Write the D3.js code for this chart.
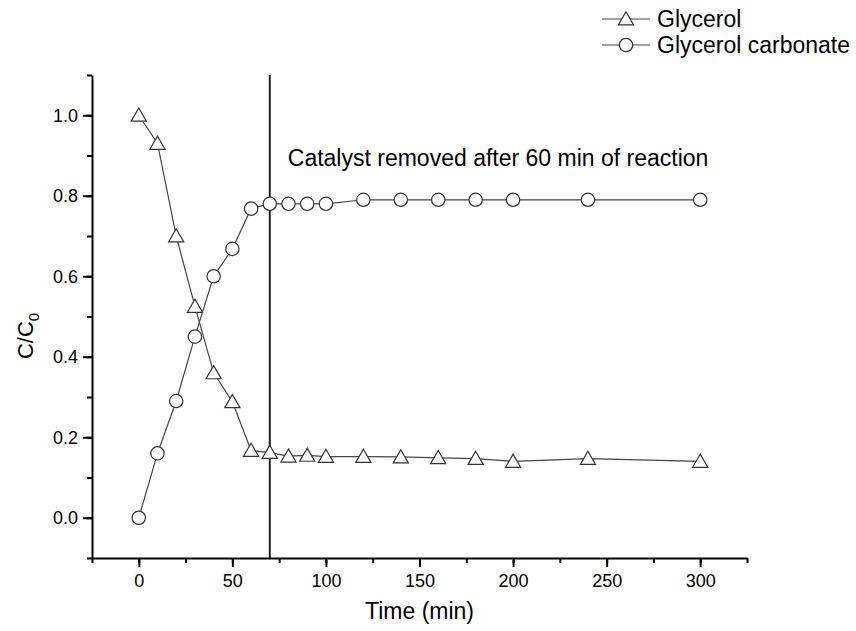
<!DOCTYPE html>
<html>
<head>
<meta charset="utf-8">
<script src="https://cdn.jsdelivr.net/npm/d3@7"></script>
<style>
  body { margin: 0; background: #fff; }
  svg { font-family: "Liberation Sans", Arial, sans-serif; }
</style>
</head>
<body>
<svg class="chart" width="856" height="631"></svg>
<script>
// data
var time = [0, 10, 20, 30, 40, 50, 60, 70, 80, 90, 100, 120, 140, 160, 180, 200, 240, 300];
var glycerol = [1.0, 0.93, 0.70, 0.525, 0.36, 0.288, 0.167, 0.162, 0.153, 0.155, 0.152, 0.152, 0.151, 0.149, 0.147, 0.140, 0.147, 0.140];
var carbonate = [0.0, 0.16, 0.29, 0.45, 0.60, 0.668, 0.768, 0.78, 0.78, 0.78, 0.78, 0.79, 0.79, 0.79, 0.79, 0.79, 0.79, 0.79];
var xTicks = [0, 50, 100, 150, 200, 250, 300];
var yTicks = [0.0, 0.2, 0.4, 0.6, 0.8, 1.0];
var removedAt = 70;
var note = "Catalyst removed after 60 min of reaction";
var seriesNames = ["Glycerol", "Glycerol carbonate"];

var svg = d3.select("svg.chart"),
    m = {left: 92, right: 747, top: 75, bottom: 558};

var x = d3.scaleLinear().domain([-25, 325]).range([m.left, m.right]);
var y = d3.scaleLinear().domain([-0.1, 1.1]).range([m.bottom, m.top]);

var line = d3.line()
    .x(function(d) { return x(d[0]); })
    .y(function(d) { return y(d[1]); });

var sym = {
  tri: d3.symbol().type(d3.symbolTriangle).size(100),
  circ: d3.symbol().type(d3.symbolCircle).size(140)
};

// axes
var xMinor = d3.range(-25, 326, 25);
var yMinor = d3.range(-0.1, 1.11, 0.1);

svg.append("g")
    .attr("transform", "translate(0," + m.bottom + ")")
    .call(d3.axisBottom(x).tickValues(xMinor).tickSize(5).tickSizeOuter(0).tickFormat(""))
    .call(function(g) { g.select(".domain").remove(); g.selectAll("line").attr("stroke-width", 2); });

svg.append("g")
    .attr("transform", "translate(" + m.left + ",0)")
    .call(d3.axisLeft(y).tickValues(yMinor).tickSize(5).tickSizeOuter(0).tickFormat(""))
    .call(function(g) { g.select(".domain").remove(); g.selectAll("line").attr("stroke-width", 2); });

var gx = svg.append("g")
    .attr("transform", "translate(0," + m.bottom + ")")
    .call(d3.axisBottom(x).tickValues(xTicks).tickSize(9).tickSizeOuter(0).tickPadding(7).tickFormat(d3.format("d")));

var gy = svg.append("g")
    .attr("transform", "translate(" + m.left + ",0)")
    .call(d3.axisLeft(y).tickValues(yTicks).tickSize(9).tickSizeOuter(0).tickPadding(5).tickFormat(d3.format(".1f")));

[gx, gy].forEach(function(g) {
  g.select(".domain").attr("stroke-width", 2);
  g.selectAll("line").attr("stroke-width", 2);
  g.selectAll("text").attr("font-size", 18).attr("fill", "#000")
      .attr("font-family", "Liberation Sans, Arial, sans-serif");
});

// axis titles
svg.append("text")
    .attr("x", (m.left + m.right) / 2)
    .attr("y", 619)
    .attr("text-anchor", "middle")
    .attr("font-size", 23)
    .text("Time (min)");

var yt = svg.append("text")
    .attr("transform", "translate(33," + 336 + ") rotate(-90)")
    .attr("text-anchor", "middle")
    .attr("font-size", 22);
yt.append("tspan").text("C/C");
yt.append("tspan").attr("font-size", 15).attr("dy", 6).text("0");

// catalyst removal line
svg.append("line")
    .attr("x1", x(removedAt)).attr("x2", x(removedAt))
    .attr("y1", y(1.1)).attr("y2", y(-0.1))
    .attr("stroke", "#222").attr("stroke-width", 2);

svg.append("text")
    .attr("x", x(removedAt) + 18)
    .attr("y", y(0.875))
    .attr("font-size", 23)
    .text(note);

// series
var series = [
  { name: seriesNames[0], vals: glycerol, shape: sym.tri },
  { name: seriesNames[1], vals: carbonate, shape: sym.circ }
];

series.forEach(function(s) {
  var pts = time.map(function(t, i) { return [t, s.vals[i]]; });
  svg.append("path")
      .datum(pts)
      .attr("d", line)
      .attr("fill", "none")
      .attr("stroke", "#444")
      .attr("stroke-width", 1.2);
  svg.append("g").selectAll("path")
      .data(pts)
      .enter().append("path")
      .attr("d", s.shape)
      .attr("transform", function(d) {
        var dy = s.shape === sym.tri ? 1.5 : 0;
        return "translate(" + x(d[0]) + "," + (y(d[1]) + dy) + ")";
      })
      .attr("fill", "#fff")
      .attr("stroke", "#333")
      .attr("stroke-width", 1.2);
});

// legend
var legend = svg.append("g")
  .selectAll("g")
  .data(series)
  .enter().append("g")
    .attr("transform", function(d, i) { return "translate(602," + (19 + i * 26) + ")"; });

legend.append("line")
    .attr("x1", 0).attr("x2", 48)
    .attr("stroke", "#444").attr("stroke-width", 1.2);

legend.append("path")
    .attr("d", function(d) { return d.shape(); })
    .attr("transform", function(d) { return "translate(24," + (d.shape === sym.tri ? 1.5 : 0) + ")"; })
    .attr("fill", "#fff").attr("stroke", "#333").attr("stroke-width", 1.2);

legend.append("text")
    .attr("x", 55)
    .attr("dy", "0.35em")
    .attr("font-size", 23)
    .text(function(d) { return d.name; });
</script>
</body>
</html>
